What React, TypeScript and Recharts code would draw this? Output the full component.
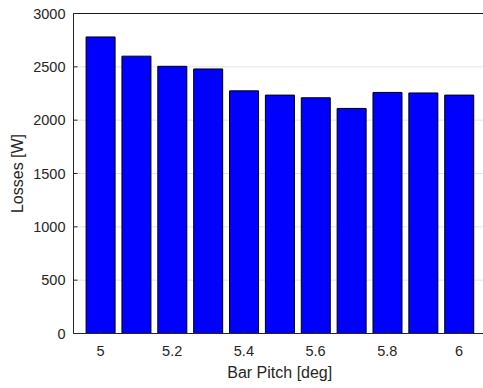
import React from "react";
import { BarChart, Bar, XAxis, YAxis, CartesianGrid, Label, ReferenceLine } from "recharts";

// Bar pitch values (deg) and the resulting losses (W)
const pitch = [5, 5.1, 5.2, 5.3, 5.4, 5.5, 5.6, 5.7, 5.8, 5.9, 6];
const losses = [2780, 2600, 2505, 2480, 2275, 2235, 2210, 2110, 2260, 2255, 2235];
const yTicks = [0, 500, 1000, 1500, 2000, 2500, 3000];
const yMax = 3000;

const data = pitch.map((p, i) => ({ pitch: p, losses: losses[i] }));

const AXIS = "#262626";
const FONT = "'Liberation Sans', Arial, Helvetica, sans-serif";

export default function App() {
  return (
    <div
      style={{
        position: "absolute",
        left: 0,
        top: 0,
        width: 483,
        height: 388,
        overflow: "hidden",
        background: "#fff",
        fontFamily: FONT,
      }}
    >
      <BarChart
        width={490}
        height={388}
        data={data}
        margin={{ top: 13.5, right: 4, bottom: 0, left: 0 }}
        barCategoryGap="10%"
      >
        {/* interior grid lines only; the box edges are drawn separately */}
        <CartesianGrid
          vertical={false}
          horizontalValues={yTicks.slice(1, -1)}
          stroke="#e4e4e4"
          strokeWidth={1}
        />
        <XAxis
          dataKey="pitch"
          type="category"
          interval={1}
          height={54.5}
          padding={{ left: 9, right: 9 }}
          stroke={AXIS}
          tickSize={-4}
          tickMargin={16}
          tick={{ fill: AXIS, fontSize: 14.5, fontFamily: FONT }}
          tickFormatter={(v) => String(v)}
        >
          <Label
            value="Bar Pitch [deg]"
            position="insideBottom"
            offset={10}
            style={{ fill: AXIS, fontSize: 16, fontFamily: FONT }}
          />
        </XAxis>
        <YAxis
          domain={[0, yMax]}
          ticks={yTicks}
          interval={0}
          width={73.5}
          stroke={AXIS}
          tickSize={-4}
          tickMargin={12}
          tick={{ fill: AXIS, fontSize: 14.5, fontFamily: FONT }}
        >
          <Label
            value="Losses [W]"
            angle={-90}
            position="insideLeft"
            offset={17}
            style={{ fill: AXIS, fontSize: 16, fontFamily: FONT, textAnchor: "middle" }}
          />
        </YAxis>
        <Bar
          dataKey="losses"
          fill="#0000ff"
          stroke="#000000"
          strokeWidth={1}
          isAnimationActive={false}
        />
        {/* upper edge of the axes box */}
        <ReferenceLine y={yMax} stroke="#1a1a1a" strokeWidth={1.2} ifOverflow="visible" />
      </BarChart>
    </div>
  );
}
